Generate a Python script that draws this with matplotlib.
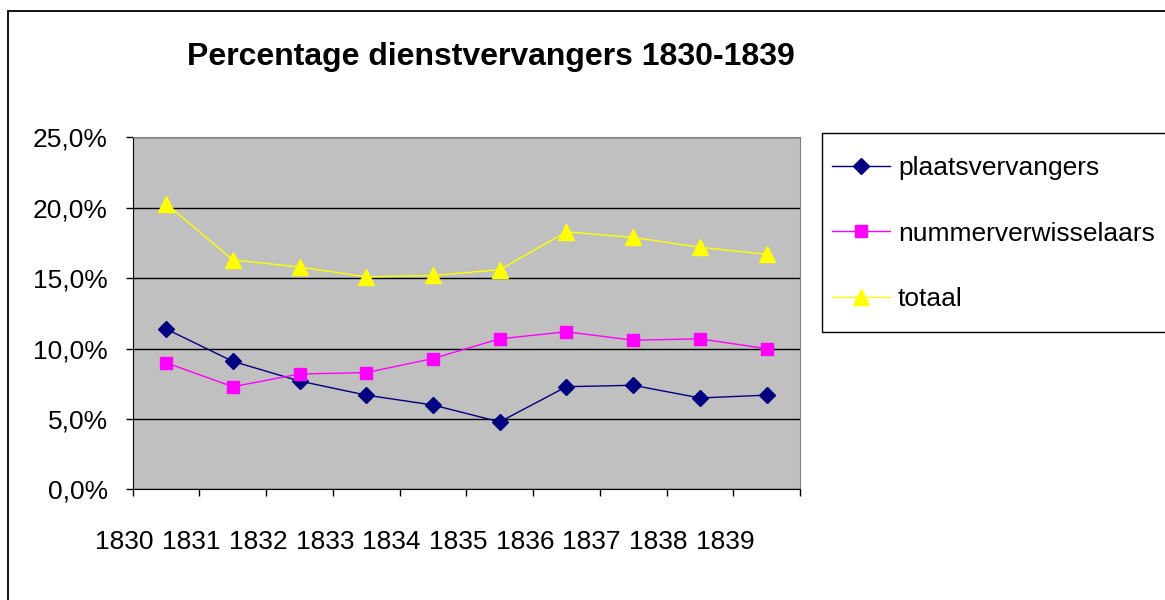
import matplotlib
matplotlib.use("Agg")
import matplotlib.pyplot as plt
import matplotlib.transforms as mtransforms
from matplotlib.patches import Rectangle

plt.rcParams['font.family'] = ['Liberation Sans', 'DejaVu Sans']

# data (percentages)
jaren = ['1830', '1831', '1832', '1833', '1834', '1835', '1836', '1837', '1838', '1839']
plaatsvervangers = [11.4, 9.1, 7.7, 6.7, 6.0, 4.8, 7.3, 7.4, 6.5, 6.7]
nummerverwisselaars = [9.0, 7.3, 8.2, 8.3, 9.3, 10.7, 11.2, 10.6, 10.7, 10.0]
totaal = [20.3, 16.3, 15.8, 15.1, 15.2, 15.6, 18.3, 17.9, 17.2, 16.7]
yticks = [0, 5, 10, 15, 20, 25]

fig = plt.figure(figsize=(11.65, 6), dpi=100)
ax = fig.add_axes([0.1139, 0.1842, 0.5728, 0.5867])
ax.set_facecolor('#C0C0C0')

xs = [i + 0.5 for i in range(len(jaren))]
l1, = ax.plot(xs, plaatsvervangers, color='#000080', lw=1, marker='D', ms=8,
              mec='#000080', mfc='#000080', zorder=3)
l2, = ax.plot(xs, nummerverwisselaars, color='#FF00FF', lw=1, marker='s', ms=9,
              mec='#FF00FF', mfc='#FF00FF', zorder=3)
l3, = ax.plot(xs, totaal, color='#FFFF00', lw=1, marker='^', ms=11,
              mec='#FFFF00', mfc='#FFFF00', zorder=3)

ax.set_xlim(0, len(jaren))
ax.set_ylim(0, 25)
ax.set_yticks(yticks)
ax.set_yticklabels([('%.1f' % v).replace('.', ',') + '%' for v in yticks])
ax.yaxis.grid(True, color='black', lw=1)
ax.set_axisbelow(True)
ax.set_xticks(range(len(jaren) + 1))
ax.set_xticklabels([])
ax.tick_params(axis='both', direction='out', length=5, width=1, color='black',
               labelsize=19, pad=13)

# year labels sit shifted left of the categories, like the original
trans = mtransforms.blended_transform_factory(ax.transData, ax.transAxes)
for i, j in enumerate(jaren):
    ax.text(i - 0.12, -0.15, j, transform=trans, ha='center', va='center',
            fontsize=19)

for s in ['left', 'bottom']:
    ax.spines[s].set_color('black')
for s in ['top', 'right']:
    ax.spines[s].set_color('#808080')

fig.text(0.4215, 0.905, 'Percentage dienstvervangers 1830-1839', ha='center',
         va='center', fontsize=23, fontweight='bold')

# legend with box running off the right edge
fig.patches.append(Rectangle((822 / 1165, 1 - 332 / 600), 0.4, (332 - 133) / 600,
                             transform=fig.transFigure, fill=False,
                             edgecolor='black', lw=1, clip_on=False))
fig.legend([l1, l2, l3], ['plaatsvervangers', 'nummerverwisselaars', 'totaal'],
           loc='upper left', bbox_to_anchor=(832 / 1165, 1 - 156 / 600),
           frameon=False, fontsize=19, handlelength=2.2, handletextpad=0.3,
           labelspacing=1.58, borderaxespad=0, borderpad=0)

# outer chart border
fig.patches.append(Rectangle((8 / 1165, -0.05), 1.1, 1 - 11 / 600 + 0.05,
                             transform=fig.transFigure, fill=False,
                             edgecolor='black', lw=1.3, clip_on=False))

fig.savefig('out.png', dpi=100)
